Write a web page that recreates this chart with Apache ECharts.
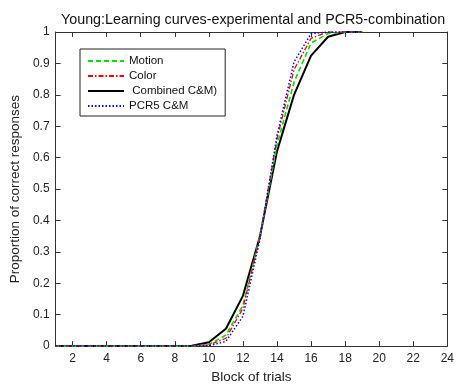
<!DOCTYPE html>
<html>
<head>
<meta charset="utf-8">
<script src="https://cdn.jsdelivr.net/npm/echarts@6/dist/echarts.min.js"></script>
<style>
html,body{margin:0;padding:0;background:#fff;}
#chart{width:457px;height:389px;}
</style>
</head>
<body>
<div id="chart"></div>
<script>
var blocks = [1,2,3,4,5,6,7,8,9,10,11,12,13,14,15,16,17,18,19];
var motion   = [0,0,0,0,0,0,0,0,0,0.005,0.035,0.13,0.35,0.64,0.84,0.965,0.995,1,1];
var color    = [0,0,0,0,0,0,0,0,0,0.004,0.025,0.12,0.35,0.66,0.88,0.98,1,1,1];
var combined = [0,0,0,0,0,0,0,0,0.001,0.012,0.055,0.16,0.35,0.62,0.80,0.925,0.985,1,1];
var pcr5     = [0,0,0,0,0,0,0,0,0,0.001,0.015,0.095,0.34,0.67,0.905,0.995,1,1,1];
var xTicks = [2,4,6,8,10,12,14,16,18,20,22,24];
var seriesNames = ['Motion','Color',' Combined C&M)','PCR5 C&M'];

function pairs(arr){ return blocks.map(function(b,i){ return [b, arr[i]]; }); }

var FONT = 'Liberation Sans, Arial, sans-serif';
var axisColor = '#333';
var chart = echarts.init(document.getElementById('chart'), null, {renderer:'canvas'});
var baseX = {
  type:'value', min:1, max:24,
  axisLine:{show:true, onZero:false, lineStyle:{color:axisColor, width:1}},
  axisTick:{show:true, inside:true, length:5, customValues:xTicks, lineStyle:{color:axisColor}},
  axisLabel:{show:true, customValues:xTicks, color:'#222', fontSize:12, fontFamily:FONT, margin:7},
  splitLine:{show:false}
};
var baseY = {
  type:'value', min:0, max:1, interval:0.1,
  axisLine:{show:true, onZero:false, lineStyle:{color:axisColor, width:1}},
  axisTick:{show:true, inside:true, length:5, lineStyle:{color:axisColor}},
  axisLabel:{show:true, color:'#222', fontSize:12, fontFamily:FONT, margin:6,
    formatter:function(v){ return String(Math.round(v*10)/10); }},
  splitLine:{show:false}
};
var option = {
  animation:false,
  backgroundColor:'#fff',
  title:{
    text:'Young:Learning curves-experimental and PCR5-combination',
    left:56, top:8,
    textStyle:{fontFamily:FONT, fontSize:14.3, fontWeight:'normal', color:'#111'}
  },
  grid:{left:53, right:2, top:32, bottom:36, containLabel:false},
  legend:{
    orient:'vertical', left:80, top:49,
    data:seriesNames,
    itemWidth:36, itemHeight:14, itemGap:3,
    padding:[6,8,4,7],
    borderColor:'#222', borderWidth:1, backgroundColor:'#fff',
    itemStyle:{opacity:0},
    textStyle:{fontFamily:FONT, fontSize:11.5, color:'#111'},
    selectedMode:false
  },
  xAxis:[
    Object.assign({}, baseX, {position:'bottom', name:'Block of trials', nameLocation:'middle', nameGap:22,
      nameTextStyle:{fontFamily:FONT, fontSize:13.5, color:'#222'}}),
    Object.assign({}, baseX, {position:'top', axisLabel:{show:false, customValues:xTicks}})
  ],
  yAxis:[
    Object.assign({}, baseY, {position:'left', name:'Proportion of correct responses', nameLocation:'middle', nameGap:27,
      nameTextStyle:{fontFamily:FONT, fontSize:13.5, color:'#222'}}),
    Object.assign({}, baseY, {position:'right', axisLabel:{show:false}})
  ],
  series:[
    {name:seriesNames[0], type:'line', data:pairs(motion), symbol:'none', showSymbol:false, z:3,
      lineStyle:{color:'#00e000', width:1.6, type:[5,3]}, itemStyle:{color:'#00e000'}},
    {name:seriesNames[1], type:'line', data:pairs(color), symbol:'none', showSymbol:false, z:4,
      lineStyle:{color:'#ff0000', width:1.3, type:[5,2,1.5,2]}, itemStyle:{color:'#ff0000'}},
    {name:seriesNames[2], type:'line', data:pairs(combined), symbol:'none', showSymbol:false, z:2,
      lineStyle:{color:'#000000', width:2}, itemStyle:{color:'#000'}},
    {name:seriesNames[3], type:'line', data:pairs(pcr5), symbol:'none', showSymbol:false, z:5,
      lineStyle:{color:'#0000ff', width:1.5, type:[1.5,2]}, itemStyle:{color:'#0000ff'}}
  ]
};
chart.setOption(option);
</script>
</body>
</html>
